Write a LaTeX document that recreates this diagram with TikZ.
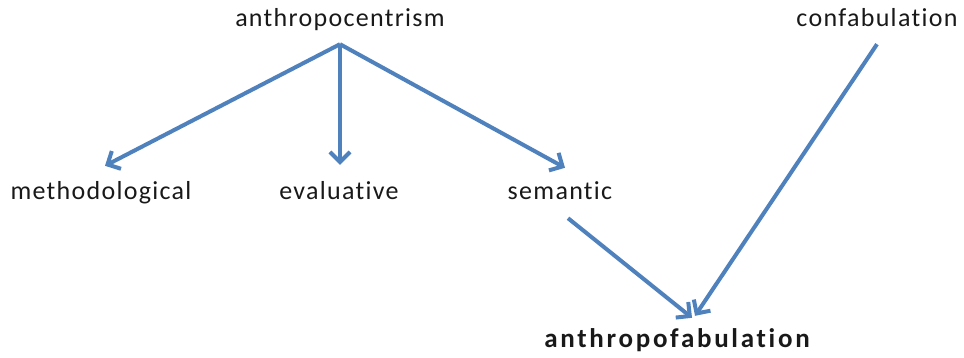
\documentclass[tikz,border=0pt]{standalone}
\usepackage{fontspec}
\setmainfont[LetterSpace=5,RawFeature=-liga]{Carlito}
\newfontfamily\widebold[LetterSpace=10,RawFeature=-liga]{Carlito}
\usetikzlibrary{arrows.meta,calc}
\definecolor{arrblue}{HTML}{4F81BD}
\begin{document}
\begin{tikzpicture}[x=1pt,y=-1pt,
  lbl/.style={inner sep=0pt, text height=19.5pt, text depth=6.5pt, font=\fontsize{26}{30}\selectfont, text=black!90},
  arr/.style={draw=arrblue, line width=4pt, -{Straight Barb[length=10pt,width=20pt,line width=4pt]}}]
\useasboundingbox (0,0) rectangle (964,358);
\node[lbl] (anthro) at (340,20) {anthropocentrism};
\node[lbl] (confab) at (877,20) {confabulation};
\node[lbl] (meth) at (101,193) {methodological};
\node[lbl] (eval) at (339,193) {evaluative};
\node[lbl] (sem) at (560,193) {semantic};
\node[lbl, font=\widebold\fontsize{27}{30}\selectfont\bfseries] (af) at (677,341) {anthropofabulation};
\draw[arr] ($(anthro.south)+(0,11)$) -- ($(meth.north)+(4,-14)$);
\draw[arr] ($(anthro.south)+(0,11)$) -- ($(eval.north)+(1,-15)$);
\draw[arr] ($(anthro.south)+(0,11)$) -- ($(sem.north)+(5,-12)$);
\draw[arr] ($(sem.south)+(8,12)$) -- ($(af.north)+(15,-10)$);
\draw[arr] ($(confab.south)+(0,11)$) -- ($(af.north)+(18,-12)$);
\end{tikzpicture}
\end{document}
